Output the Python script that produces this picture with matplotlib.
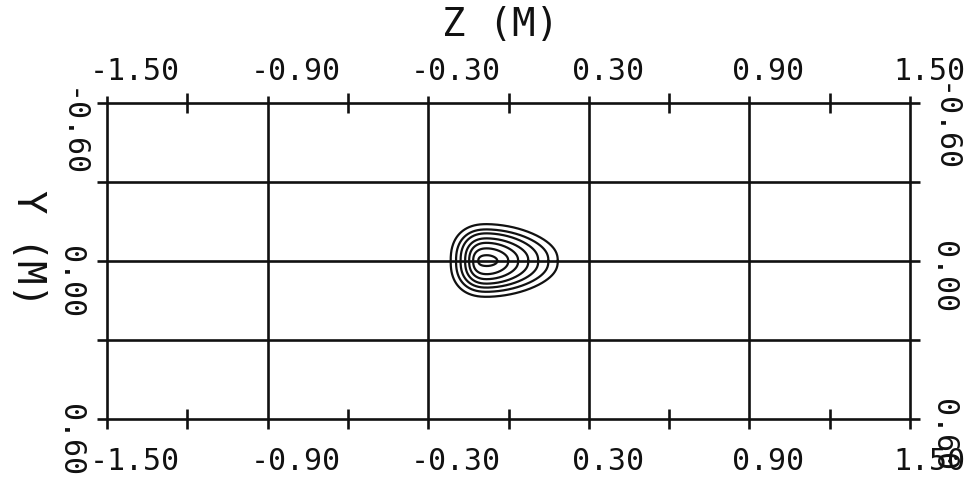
import numpy as np
import matplotlib
matplotlib.use("Agg")
import matplotlib.pyplot as plt
import matplotlib.transforms as mtransforms

# Axis ranges and labelled grid values (metres)
z_major = [-1.50, -0.90, -0.30, 0.30, 0.90, 1.50]
z_minor = [-1.20, -0.60, 0.00, 0.60, 1.20]
y_grid = [-0.60, -0.30, 0.00, 0.30, 0.60]
y_labels = [-0.60, 0.00, 0.60]

# Contour levels: centre of the peak and the extents of each closed line
peak_z, peak_y = -0.08, 0.0
contour_left = [-0.216, -0.196, -0.179, -0.162, -0.147, -0.132, -0.113]
contour_right = [0.184, 0.149, 0.111, 0.074, 0.036, -0.001, -0.042]
contour_top = [-0.140, -0.120, -0.105, -0.086, -0.069, -0.048, -0.022]
contour_bottom = [0.136, 0.117, 0.101, 0.086, 0.069, 0.050, 0.019]

W, H = 971, 482
fig = plt.figure(figsize=(W / 100, H / 100), dpi=100)
fig.patch.set_facecolor("white")

x0, x1, y0, y1 = 107, 910, 103, 419  # frame in pixels (top-left origin)
ax = fig.add_axes([x0 / W, 1 - y1 / H, (x1 - x0) / W, (y1 - y0) / H])
ax.set_xlim(-1.5, 1.5)
ax.set_ylim(0.6, -0.6)
ax.axis("off")

px_x = 3.0 / (x1 - x0)   # data units per pixel, horizontal
px_y = 1.2 / (y1 - y0)   # data units per pixel, vertical
ext = 10

lw_grid = 1.9
col = "#111111"

# full grid lines, running a little past the frame
for z in z_major:
    ax.plot([z, z], [-0.6 - 7 * px_y, 0.6 + ext * px_y], color=col, lw=lw_grid,
            clip_on=False, solid_capstyle="butt")
for y in y_grid:
    ax.plot([-1.5 - ext * px_x, 1.5 + ext * px_x], [y, y], color=col, lw=lw_grid,
            clip_on=False, solid_capstyle="butt")
# intermediate ticks crossing top and bottom edges
for z in z_minor:
    for yb in (-0.6, 0.6):
        ax.plot([z, z], [yb - ext * px_y, yb + ext * px_y], color=col, lw=lw_grid,
                clip_on=False, solid_capstyle="butt")

# contour lines (rounded egg outlines, blunt on the left, tapering to the right)
theta = np.linspace(0, 2 * np.pi, 600)
n_round = 2.4
c = np.sign(np.cos(theta)) * np.abs(np.cos(theta)) ** (2 / n_round)
s = np.sign(np.sin(theta)) * np.abs(np.sin(theta)) ** (2 / n_round)
for zl, zr, yt, yb in zip(contour_left, contour_right, contour_top, contour_bottom):
    zz = peak_z + np.where(c < 0, (peak_z - zl) * c, (zr - peak_z) * c)
    taper = 1 - 0.22 * np.clip(c, 0, None) ** 1.5
    yy = peak_y + np.where(s < 0, (peak_y - yt) * s, (yb - peak_y) * s) * taper
    ax.plot(zz, yy, color=col, lw=1.6)

font = "DejaVu Sans Mono"
tick_fs = 21.5

def fmt(v):
    return f"{v:.2f}"

def px_offset(dx, dy):
    return mtransforms.ScaledTranslation(dx / 100, -dy / 100, fig.dpi_scale_trans)

# Z tick labels, top and bottom
bx = mtransforms.blended_transform_factory(ax.transData, fig.transFigure)
for z in z_major:
    for ypix in (71, 461):
        ax.text(z, 1 - ypix / H, fmt(z), transform=bx + px_offset(-17, 0),
                ha="left", va="center", fontsize=tick_fs, family=font, color=col)

# Y tick labels, left and right, written downwards
by = mtransforms.blended_transform_factory(fig.transFigure, ax.transData)
for y in y_labels:
    for xpix, dy in ((71, -15), (943, -20)):
        ax.text(xpix / W, y, fmt(y), transform=by + px_offset(0, dy),
                rotation=-90, rotation_mode="anchor",
                ha="left", va="center", fontsize=tick_fs, family=font, color=col)

fig.text(500 / W, 1 - 25 / H, "Z (M)", ha="center", va="center",
         fontsize=28, family=font, color=col)
fig.text(28 / W, 1 - 248 / H, "Y (M)", ha="center", va="center", rotation=-90,
         fontsize=28, family=font, color=col)

fig.savefig("out.png", dpi=100, facecolor="white")
